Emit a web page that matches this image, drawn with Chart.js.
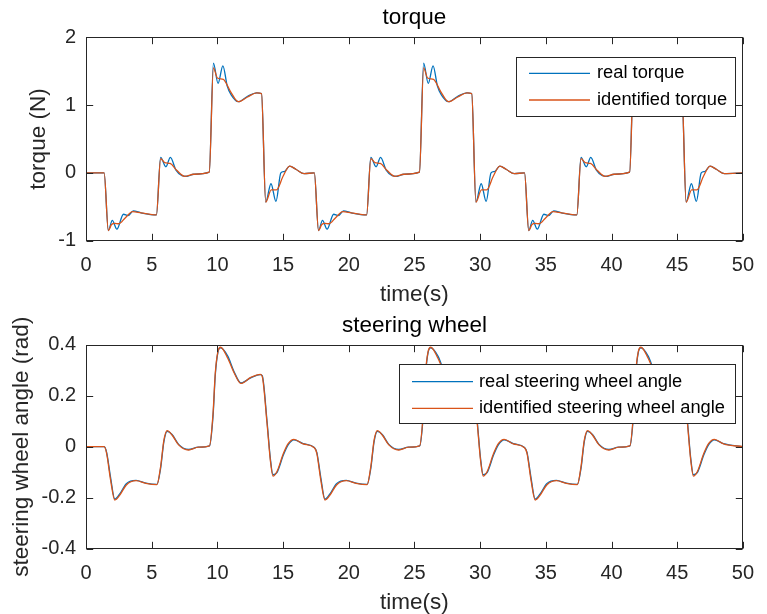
<!DOCTYPE html>
<html>
<head>
<meta charset="utf-8">
<title>torque / steering wheel</title>
<script src="https://cdn.jsdelivr.net/npm/chart.js@4.4.0/dist/chart.umd.min.js"></script>
<style>
  html, body { margin: 0; padding: 0; background: #fff; overflow: hidden; }
  canvas { position: absolute; left: 0; }
  #torqueChart { top: 0; }
  #angleChart { top: 307px; }
</style>
</head>
<body>
<canvas id="torqueChart" width="767" height="320"></canvas>
<canvas id="angleChart" width="767" height="320"></canvas>
<script>
// Axis ticks
const xTicks = [0, 5, 10, 15, 20, 25, 30, 35, 40, 45, 50];
const torqueTicks = [-1, 0, 1, 2];
const angleTicks = [-0.4, -0.2, 0, 0.2, 0.4];

// torque, real (s / N)
const tqRealTime = [0, 1.38,
  1.70, 2.00, 2.35, 2.85, 3.20, 3.60, 4.20, 5.36, 5.68, 6.08, 6.42, 6.85, 7.30, 7.70, 8.20, 9.38,
  9.70, 10.05, 10.42, 10.75, 11.05, 11.60, 12.30, 13.00, 13.36, 13.68, 14.08, 14.46, 14.83, 15.10, 15.50, 16.00, 16.60, 17.38,
  17.70, 18.00, 18.35, 18.85, 19.20, 19.60, 20.20, 21.36, 21.68, 22.08, 22.42, 22.85, 23.30, 23.70, 24.20, 25.38,
  25.70, 26.05, 26.42, 26.75, 27.05, 27.60, 28.30, 29.00, 29.36, 29.68, 30.08, 30.46, 30.83, 31.10, 31.50, 32.00, 32.60, 33.38,
  33.70, 34.00, 34.35, 34.85, 35.20, 35.60, 36.20, 37.36, 37.68, 38.08, 38.42, 38.85, 39.30, 39.70, 40.20, 41.38,
  41.70, 42.05, 42.42, 42.75, 43.05, 43.60, 44.30, 45.00, 45.36, 45.68, 46.08, 46.46, 46.83, 47.10, 47.50, 48.00, 48.60, 50.00];
const tqReal = [0, 0,
  -0.85, -0.70, -0.83, -0.61, -0.63, -0.56, -0.59, -0.62, 0.23, 0.09, 0.23, 0.04, -0.04, -0.05, -0.02, 0.01,
  1.62, 1.32, 1.58, 1.28, 1.15, 1.05, 1.13, 1.18, 1.17, -0.43, -0.16, -0.42, 0.00, 0.02, 0.10, 0.05, -0.01, 0.00,
  -0.85, -0.70, -0.83, -0.61, -0.63, -0.56, -0.59, -0.62, 0.23, 0.09, 0.23, 0.04, -0.04, -0.05, -0.02, 0.01,
  1.62, 1.32, 1.58, 1.28, 1.15, 1.05, 1.13, 1.18, 1.17, -0.43, -0.16, -0.42, 0.00, 0.02, 0.10, 0.05, -0.01, 0.00,
  -0.85, -0.70, -0.83, -0.61, -0.63, -0.56, -0.59, -0.62, 0.23, 0.09, 0.23, 0.04, -0.04, -0.05, -0.02, 0.01,
  1.62, 1.32, 1.58, 1.28, 1.15, 1.05, 1.13, 1.18, 1.17, -0.43, -0.16, -0.42, 0.00, 0.02, 0.10, 0.05, -0.01, 0.00];

// torque, identified
const tqIdentTime = [0, 1.38,
  1.70, 1.95, 2.20, 2.50, 3.00, 3.55, 4.20, 5.36, 5.68, 6.00, 6.40, 6.90, 7.50, 8.20, 9.38,
  9.70, 10.00, 10.45, 11.00, 11.60, 12.30, 13.00, 13.36, 13.68, 14.10, 14.50, 15.00, 15.50, 16.00, 16.60, 17.38,
  17.70, 17.95, 18.20, 18.50, 19.00, 19.55, 20.20, 21.36, 21.68, 22.00, 22.40, 22.90, 23.50, 24.20, 25.38,
  25.70, 26.00, 26.45, 27.00, 27.60, 28.30, 29.00, 29.36, 29.68, 30.10, 30.50, 31.00, 31.50, 32.00, 32.60, 33.38,
  33.70, 33.95, 34.20, 34.50, 35.00, 35.55, 36.20, 37.36, 37.68, 38.00, 38.40, 38.90, 39.50, 40.20, 41.38,
  41.70, 42.00, 42.45, 43.00, 43.60, 44.30, 45.00, 45.36, 45.68, 46.10, 46.50, 47.00, 47.50, 48.00, 48.60, 50.00];
const tqIdent = [0, 0,
  -0.85, -0.76, -0.745, -0.75, -0.66, -0.57, -0.59, -0.62, 0.21, 0.15, 0.14, 0.04, -0.05, -0.02, 0.01,
  1.55, 1.40, 1.38, 1.20, 1.05, 1.12, 1.18, 1.17, -0.43, -0.25, -0.25, -0.05, 0.10, 0.05, -0.01, 0.00,
  -0.85, -0.76, -0.745, -0.75, -0.66, -0.57, -0.59, -0.62, 0.21, 0.15, 0.14, 0.04, -0.05, -0.02, 0.01,
  1.55, 1.40, 1.38, 1.20, 1.05, 1.12, 1.18, 1.17, -0.43, -0.25, -0.25, -0.05, 0.10, 0.05, -0.01, 0.00,
  -0.85, -0.76, -0.745, -0.75, -0.66, -0.57, -0.59, -0.62, 0.21, 0.15, 0.14, 0.04, -0.05, -0.02, 0.01,
  1.55, 1.40, 1.38, 1.20, 1.05, 1.12, 1.18, 1.17, -0.43, -0.25, -0.25, -0.05, 0.10, 0.05, -0.01, 0.00];

// steering wheel angle (rad), both series share the time base
const swTime = [0, 1.38,
  1.57, 1.87, 2.19, 2.57, 3.07, 3.81, 4.56, 5.40, 5.68, 5.93, 6.18, 6.55, 7.05, 7.80, 8.55, 9.40,
  9.67, 9.84, 10.04, 10.24, 10.79, 11.29, 11.79, 12.54, 13.28, 13.42, 13.78, 14.03, 14.23, 14.53, 15.03, 15.40, 15.83, 16.53, 17.38,
  17.57, 17.87, 18.19, 18.57, 19.07, 19.81, 20.56, 21.40, 21.68, 21.93, 22.18, 22.55, 23.05, 23.80, 24.55, 25.40,
  25.67, 25.84, 26.04, 26.24, 26.79, 27.29, 27.79, 28.54, 29.28, 29.42, 29.78, 30.03, 30.23, 30.53, 31.03, 31.40, 31.83, 32.53, 33.38,
  33.57, 33.87, 34.19, 34.57, 35.07, 35.81, 36.56, 37.40, 37.68, 37.93, 38.18, 38.55, 39.05, 39.80, 40.55, 41.40,
  41.67, 41.84, 42.04, 42.24, 42.79, 43.29, 43.79, 44.54, 45.28, 45.42, 45.78, 46.03, 46.23, 46.53, 47.03, 47.40, 47.83, 48.53, 50.00];
const swReal = [0, 0,
  -0.022, -0.12, -0.205, -0.185, -0.145, -0.132, -0.143, -0.148, -0.085, 0.02, 0.06, 0.048, 0.009, -0.011, -0.002, 0.003,
  0.12, 0.28, 0.37, 0.388, 0.355, 0.292, 0.25, 0.27, 0.283, 0.278, 0.1, -0.045, -0.11, -0.102, -0.032, 0.008, 0.027, 0.012, -0.003,
  -0.022, -0.12, -0.205, -0.185, -0.145, -0.132, -0.143, -0.148, -0.085, 0.02, 0.06, 0.048, 0.009, -0.011, -0.002, 0.003,
  0.12, 0.28, 0.37, 0.388, 0.355, 0.292, 0.25, 0.27, 0.283, 0.278, 0.1, -0.045, -0.11, -0.102, -0.032, 0.008, 0.027, 0.012, -0.003,
  -0.022, -0.12, -0.205, -0.185, -0.145, -0.132, -0.143, -0.148, -0.085, 0.02, 0.06, 0.048, 0.009, -0.011, -0.002, 0.003,
  0.12, 0.28, 0.37, 0.388, 0.355, 0.292, 0.25, 0.27, 0.283, 0.278, 0.1, -0.045, -0.11, -0.102, -0.032, 0.008, 0.027, 0.012, 0];
const swIdent = [0, 0,
  -0.026, -0.13, -0.209, -0.19, -0.15, -0.133, -0.144, -0.149, -0.078, 0.026, 0.063, 0.046, 0.007, -0.013, -0.002, 0.003,
  0.13, 0.288, 0.373, 0.39, 0.347, 0.288, 0.248, 0.272, 0.284, 0.275, 0.092, -0.052, -0.115, -0.098, -0.026, 0.013, 0.029, 0.011, -0.004,
  -0.026, -0.13, -0.209, -0.19, -0.15, -0.133, -0.144, -0.149, -0.078, 0.026, 0.063, 0.046, 0.007, -0.013, -0.002, 0.003,
  0.13, 0.288, 0.373, 0.39, 0.347, 0.288, 0.248, 0.272, 0.284, 0.275, 0.092, -0.052, -0.115, -0.098, -0.026, 0.013, 0.029, 0.011, -0.004,
  -0.026, -0.13, -0.209, -0.19, -0.15, -0.133, -0.144, -0.149, -0.078, 0.026, 0.063, 0.046, 0.007, -0.013, -0.002, 0.003,
  0.13, 0.288, 0.373, 0.39, 0.347, 0.288, 0.248, 0.272, 0.284, 0.275, 0.092, -0.052, -0.115, -0.098, -0.026, 0.013, 0.029, 0.011, 0];

const BLUE = '#0072BD';
const ORANGE = '#D95319';
const AXIS = '#262626';
const FONT = '"Liberation Sans", Arial, Helvetica, sans-serif';

function points(ts, vs) {
  return ts.map((t, i) => ({ x: t, y: vs[i] }));
}

// MATLAB style box with inward ticks + boxed legend
const axesFrame = {
  id: 'axesFrame',
  afterDatasetsDraw(chart) {
    const { ctx, chartArea: a, scales } = chart;
    const L = Math.round(a.left) + 0.5, R = Math.round(a.right) - 0.5;
    const T = Math.round(a.top) + 0.5, B = Math.round(a.bottom) - 0.5;
    const len = 6.7;
    ctx.save();
    ctx.strokeStyle = AXIS;
    ctx.lineWidth = 1;
    ctx.beginPath();
    scales.x.ticks.forEach(t => {
      const px = Math.round(scales.x.getPixelForValue(t.value)) + 0.5;
      ctx.moveTo(px, B); ctx.lineTo(px, B - len);
      ctx.moveTo(px, T); ctx.lineTo(px, T + len);
    });
    scales.y.ticks.forEach(t => {
      const py = Math.round(scales.y.getPixelForValue(t.value)) + 0.5;
      ctx.moveTo(L, py); ctx.lineTo(L + len, py);
      ctx.moveTo(R, py); ctx.lineTo(R - len, py);
    });
    ctx.stroke();
    ctx.strokeRect(L, T, R - L, B - T);
    ctx.restore();
  },
  afterDraw(chart, args, opts) {
    if (!opts.box) return;
    const { ctx } = chart;
    const [x, y, w, h] = opts.box;
    ctx.save();
    ctx.fillStyle = '#fff';
    ctx.fillRect(x, y, w, h);
    ctx.strokeStyle = AXIS;
    ctx.lineWidth = 1;
    ctx.strokeRect(x + 0.5, y + 0.5, w, h);
    ctx.font = '18.3px ' + FONT;
    ctx.textBaseline = 'middle';
    ctx.textAlign = 'left';
    chart.data.datasets.forEach((ds, i) => {
      const ry = opts.rows[i];
      ctx.strokeStyle = ds.borderColor;
      ctx.lineWidth = ds.borderWidth;
      ctx.beginPath();
      ctx.moveTo(opts.lineX[0], ry);
      ctx.lineTo(opts.lineX[1], ry);
      ctx.stroke();
      ctx.fillStyle = '#000';
      ctx.fillText(ds.label, opts.textX, ry);
    });
    ctx.restore();
  }
};

function makeChart(id, cfg) {
  return new Chart(document.getElementById(id), {
    type: 'line',
    data: { datasets: cfg.datasets },
    options: {
      responsive: false,
      animation: false,
      devicePixelRatio: 1,
      layout: { padding: { left: 0, right: 11, top: 0, bottom: 0 } },
      elements: { point: { radius: 0 } },
      plugins: {
        legend: { display: false },
        tooltip: { enabled: false },
        title: {
          display: true,
          fullSize: false,
          text: cfg.title,
          color: '#000',
          font: { family: FONT, size: 22.5, weight: 'normal' },
          padding: cfg.titlePad
        },
        axesFrame: cfg.legend
      },
      scales: {
        x: {
          type: 'linear',
          min: 0, max: 50,
          afterBuildTicks: s => { s.ticks = xTicks.map(v => ({ value: v })); },
          afterFit: s => { s.height = cfg.xHeight; },
          grid: { display: false, drawTicks: false },
          border: { display: false },
          ticks: { color: AXIS, font: { family: FONT, size: 20 }, padding: 13, maxRotation: 0 },
          title: {
            display: true, text: 'time(s)', color: AXIS,
            font: { family: FONT, size: 22.5 },
            padding: { top: 0, bottom: cfg.xTitlePad }
          }
        },
        y: {
          min: cfg.yMin, max: cfg.yMax,
          afterBuildTicks: s => { s.ticks = cfg.yTicks.map(v => ({ value: v })); },
          afterFit: s => { s.width = 86; },
          grid: { display: false, drawTicks: false },
          border: { display: false },
          ticks: { color: AXIS, font: { family: FONT, size: 20 }, padding: 10, callback: v => String(v) },
          title: {
            display: true, text: cfg.yTitle, color: AXIS,
            font: { family: FONT, size: 22.5 },
            padding: { top: cfg.yTitlePad, bottom: 0 }
          }
        }
      }
    },
    plugins: [axesFrame]
  });
}

function series(label, color, ts, vs, order) {
  return {
    label: label,
    data: points(ts, vs),
    borderColor: color,
    borderWidth: 1.3,
    fill: false,
    cubicInterpolationMode: 'monotone',
    order: order
  };
}

makeChart('torqueChart', {
  title: 'torque',
  titlePad: { top: 3.8, bottom: 6.5 },
  xHeight: 79.3,
  xTitlePad: 11.8,
  yMin: -1, yMax: 2, yTicks: torqueTicks,
  yTitle: 'torque (N)', yTitlePad: 25.3,
  datasets: [
    series('real torque', BLUE, tqRealTime, tqReal, 1),
    series('identified torque', ORANGE, tqIdentTime, tqIdent, 0)
  ],
  legend: { box: [516, 57, 219, 59], rows: [73.3, 100], lineX: [529, 590], textX: 597 }
});

makeChart('angleChart', {
  title: 'steering wheel',
  titlePad: { top: 5, bottom: 5.7 },
  xHeight: 78.3,
  xTitlePad: 10.8,
  yMin: -0.4, yMax: 0.4, yTicks: angleTicks,
  yTitle: 'steering wheel angle (rad)', yTitlePad: 8.7,
  datasets: [
    series('real steering wheel angle', BLUE, swTime, swReal, 1),
    series('identified steering wheel angle', ORANGE, swTime, swIdent, 0)
  ],
  legend: { box: [399, 57, 336, 59], rows: [74.7, 101.3], lineX: [412, 473], textX: 479 }
});
</script>
</body>
</html>
